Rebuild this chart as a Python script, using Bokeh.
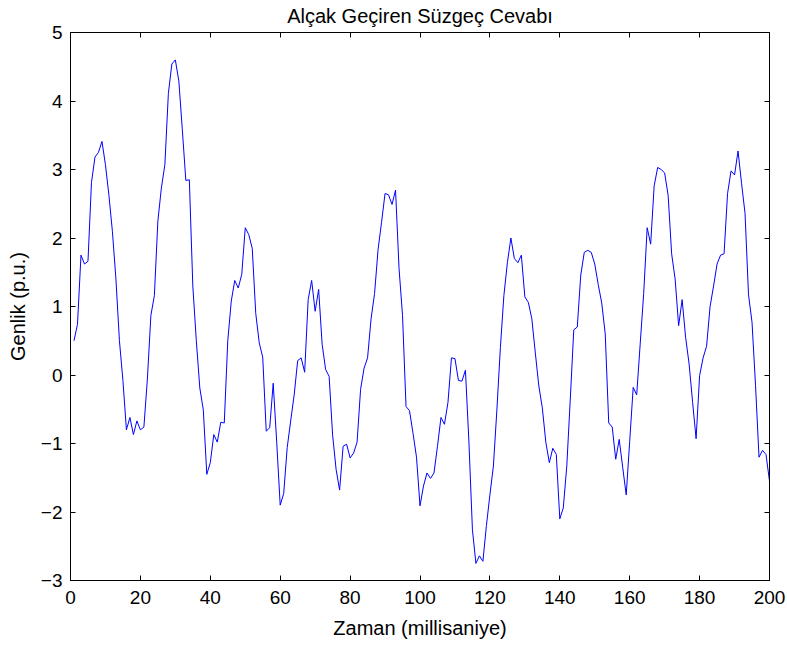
from bokeh.plotting import figure
from bokeh.models import Range1d, FixedTicker, LinearAxis
from bokeh.embed import file_html
from bokeh.resources import INLINE

# Zaman ekseni (milisaniye) ve süzgeç çıkışı (p.u.)
zaman = list(range(1, 201))
genlik = [
    0.50, 0.74, 1.75, 1.62, 1.66, 2.81, 3.18, 3.25, 3.41, 3.07,
    2.62, 2.09, 1.40, 0.50, -0.08, -0.80, -0.62, -0.87, -0.67, -0.80,
    -0.76, -0.06, 0.87, 1.16, 2.25, 2.73, 3.07, 4.11, 4.54, 4.60,
    4.29, 3.58, 2.84, 2.85, 1.30, 0.50, -0.19, -0.51, -1.45, -1.28,
    -0.87, -0.98, -0.69, -0.70, 0.50, 1.08, 1.38, 1.27, 1.47, 2.15,
    2.05, 1.85, 0.90, 0.47, 0.26, -0.82, -0.77, -0.12, -0.98, -1.90,
    -1.73, -1.06, -0.67, -0.29, 0.21, 0.25, 0.04, 1.10, 1.38, 0.93,
    1.25, 0.45, 0.08, -0.02, -0.88, -1.38, -1.68, -1.04, -1.01, -1.21,
    -1.14, -0.98, -0.21, 0.10, 0.25, 0.82, 1.19, 1.83, 2.23, 2.65,
    2.63, 2.49, 2.70, 1.56, 0.87, -0.46, -0.52, -0.85, -1.20, -1.91,
    -1.62, -1.43, -1.51, -1.43, -1.04, -0.62, -0.72, -0.40, 0.25, 0.24,
    -0.08, -0.09, 0.07, -0.98, -2.26, -2.75, -2.64, -2.72, -2.20, -1.75,
    -1.33, -0.51, 0.40, 1.16, 1.64, 2.00, 1.70, 1.64, 1.75, 1.14,
    1.06, 0.82, 0.32, -0.16, -0.48, -0.98, -1.28, -1.07, -1.16, -2.10,
    -1.94, -1.33, -0.35, 0.66, 0.70, 1.46, 1.79, 1.82, 1.79, 1.62,
    1.32, 1.05, 0.60, -0.70, -0.76, -1.23, -0.94, -1.35, -1.75, -0.97,
    -0.18, -0.29, 0.45, 1.19, 2.15, 1.91, 2.76, 3.03, 3.00, 2.95,
    2.62, 1.77, 1.40, 0.72, 1.10, 0.55, 0.16, -0.40, -0.93, -0.01,
    0.25, 0.42, 1.00, 1.30, 1.62, 1.75, 1.77, 2.65, 2.98, 2.92,
    3.27, 2.80, 2.36, 1.17, 0.77, -0.15, -1.20, -1.10, -1.16, -1.55,
]
x_ticks = [0, 20, 40, 60, 80, 100, 120, 140, 160, 180, 200]
y_ticks = [-3, -2, -1, 0, 1, 2, 3, 4, 5]

baslik = "Alçak Geçiren Süzgeç Cevabı"
x_etiket = "Zaman (millisaniye)"
y_etiket = "Genlik (p.u.)"

FONT = "Liberation Sans"

p = figure(width=787, height=645, output_backend="svg", toolbar_location=None,
           x_range=Range1d(0, 200), y_range=Range1d(-3, 5),
           min_border_left=70, min_border_right=18, min_border_top=0,
           min_border_bottom=65)
p.background_fill_color = "white"
p.border_fill_color = "white"
p.outline_line_color = "black"
p.outline_line_width = 1
p.xgrid.visible = False
p.ygrid.visible = False

p.title.text = baslik
p.title.align = "center"
p.title.vertical_align = "top"
p.title.text_font = FONT
p.title.text_font_style = "normal"
p.title.text_font_size = "20px"
p.title.text_color = "black"
p.title.standoff = 8

p.line(zaman, genlik, line_color="#0000ff", line_width=1)

def style_axis(ax, labels=True):
    ax.axis_line_color = "black"
    ax.major_tick_in = 5
    ax.major_tick_out = 0
    ax.minor_tick_line_color = None
    ax.major_tick_line_color = "black"
    ax.major_label_text_font = FONT
    ax.major_label_text_font_size = "19px"
    ax.major_label_text_color = "black" if labels else None
    ax.axis_label_text_font = FONT
    ax.axis_label_text_font_size = "20px"
    ax.axis_label_text_font_style = "normal"
    ax.axis_label_text_color = "black"

xa = p.xaxis[0]
ya = p.yaxis[0]
xa.ticker = FixedTicker(ticks=x_ticks)
ya.ticker = FixedTicker(ticks=y_ticks)
style_axis(xa)
style_axis(ya)
xa.axis_label = x_etiket
ya.axis_label = y_etiket
xa.major_label_standoff = 10
ya.major_label_standoff = 8
xa.axis_label_standoff = 10
ya.axis_label_standoff = 9

top = LinearAxis(ticker=FixedTicker(ticks=x_ticks))
style_axis(top, labels=False)
top.major_label_standoff = 0
p.add_layout(top, "above")
right = LinearAxis(ticker=FixedTicker(ticks=y_ticks))
style_axis(right, labels=False)
right.major_label_standoff = 0
p.add_layout(right, "right")

open("out.html", "w").write(file_html(p, INLINE))
